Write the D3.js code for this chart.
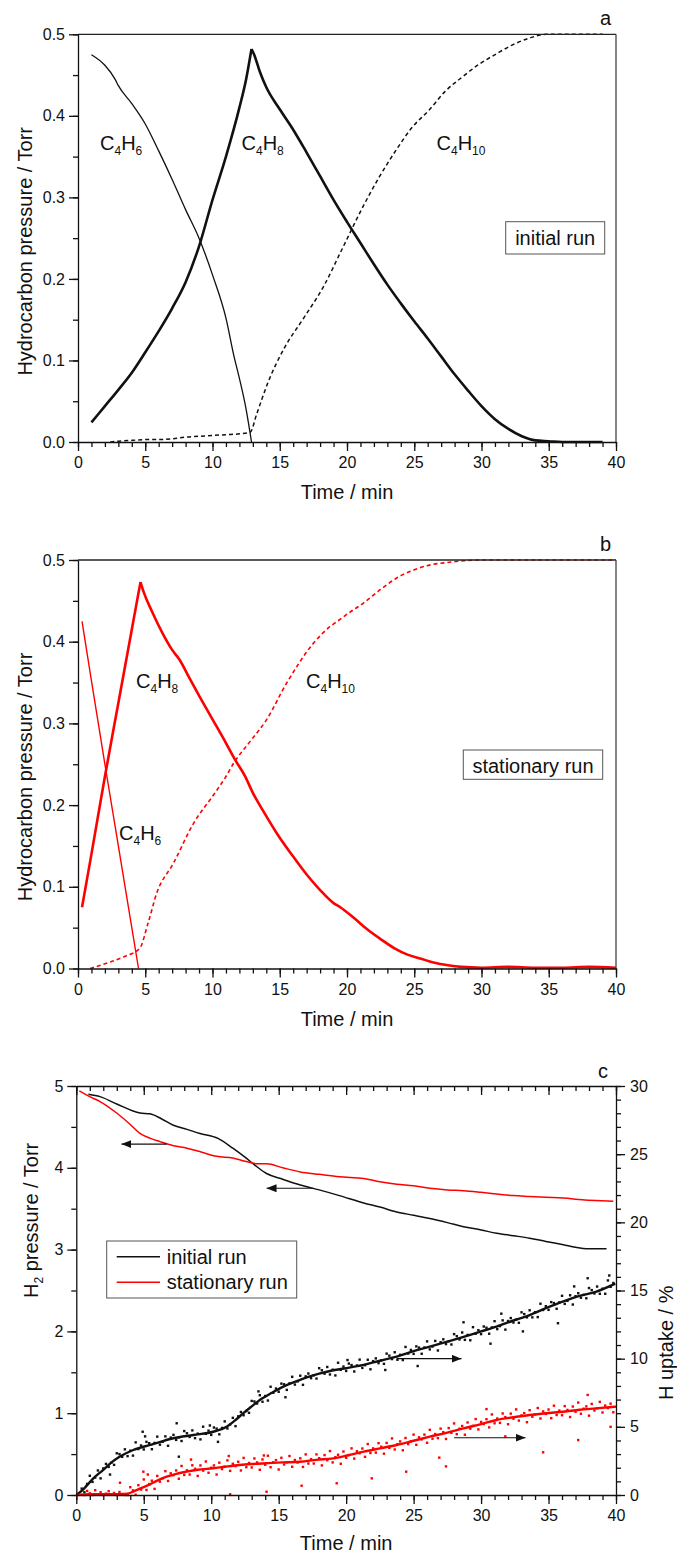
<!DOCTYPE html>
<html>
<head>
<meta charset="UTF-8">
<title>hydrocarbon runs</title>
<style>
  body, html { margin: 0; padding: 0; background: #fff; }
  svg { display: block; }
  text { font-family: "Liberation Sans", Arial, sans-serif; fill: #111; }
  .tick text { font-size: 16px; fill: #111; }
  .axis path, .axis line { stroke: #111; stroke-width: 1.3; }
</style>
</head>
<body>
<script src="https://cdn.jsdelivr.net/npm/d3@7/dist/d3.min.js"></script>
<script>
// ---- data (time in min, pressure in Torr, uptake in %) ----
var xTicks = [0, 5, 10, 15, 20, 25, 30, 35, 40];
var pTicks = [0, 0.1, 0.2, 0.3, 0.4, 0.5];
var h2Ticks = [0, 1, 2, 3, 4, 5];
var upTicks = [0, 5, 10, 15, 20, 25, 30];

// panel a, initial run
var aC4H6 = [[1,0.475],[2,0.462],[2.75,0.445],[3,0.437],[4,0.415],[5,0.39],[6,0.357],[7,0.322],[8,0.285],[9,0.25],[10,0.205],[11,0.152],[11.6,0.105],[12,0.078],[12.5,0.04],[12.9,0]];
var aC4H8 = [[1,0.024],[2,0.044],[3,0.064],[4,0.085],[5,0.11],[6,0.136],[7,0.164],[8,0.196],[9,0.24],[10,0.297],[11,0.35],[12,0.41],[12.5,0.445],[12.9,0.482],[13.1,0.475],[13.5,0.455],[14,0.435],[15,0.408],[16,0.383],[17,0.355],[18,0.326],[19,0.297],[20,0.27],[21,0.244],[22,0.218],[23,0.193],[24,0.17],[25,0.148],[26,0.127],[27,0.105],[28,0.083],[29,0.063],[30,0.044],[31,0.028],[32,0.016],[33,0.007],[34,0.002],[35,0.001],[36,0],[39,0]];
var aC4H10 = [[2.4,0],[3,0.001],[4,0.002],[5,0.003],[6,0.003],[7,0.004],[8,0.006],[9,0.007],[10,0.008],[11,0.009],[12,0.01],[12.8,0.012],[13.3,0.035],[14.1,0.072],[15.4,0.117],[16.7,0.15],[18.3,0.192],[19.5,0.232],[21.2,0.289],[22.4,0.325],[23.65,0.358],[24.8,0.385],[26.1,0.407],[27.3,0.43],[28.6,0.448],[29.8,0.463],[31.1,0.476],[32.3,0.487],[33.5,0.495],[34.8,0.5],[39,0.5]];

// panel b, stationary run
var bC4H6 = [[0.3,0.425],[1,0.352],[2,0.25],[3,0.15],[4,0.05],[4.5,0]];
var bC4H8 = [[0.3,0.075],[1,0.14],[2,0.235],[3,0.325],[4,0.415],[4.5,0.46],[4.65,0.473],[4.9,0.46],[5.5,0.437],[6.3,0.41],[7,0.39],[7.55,0.378],[8.3,0.355],[9,0.334],[10,0.305],[11,0.276],[11.7,0.255],[12.4,0.236],[13,0.215],[13.8,0.192],[14.8,0.165],[16,0.137],[17,0.115],[18,0.096],[19,0.08],[19.5,0.075],[20.5,0.062],[21.5,0.048],[22.5,0.036],[23.5,0.025],[24.5,0.017],[25.5,0.012],[26.5,0.007],[27.5,0.004],[28.5,0.002],[30,0.001],[32,0.002],[34,0.001],[36,0.001],[38,0.002],[40,0.001]];
var bC4H10 = [[0.9,0],[1.5,0.003],[2.4,0.008],[3.5,0.015],[4.6,0.025],[5.2,0.055],[5.85,0.092],[7.1,0.129],[8.6,0.178],[10.1,0.213],[11,0.235],[11.6,0.252],[12.8,0.278],[14,0.304],[15.5,0.349],[17.5,0.398],[18.7,0.418],[19.2,0.424],[20.2,0.436],[21.2,0.447],[22.5,0.464],[23.7,0.478],[25,0.488],[26.2,0.494],[27.5,0.497],[28.7,0.499],[30,0.5],[40,0.5]];

// panel c, H2 pressure (left axis)
var h2Initial = [[0.9,4.9],[1.76,4.87],[3,4.78],[4.72,4.67],[5.46,4.66],[6.3,4.6],[7.19,4.52],[8.2,4.47],[9.17,4.42],[10.5,4.36],[11.6,4.24],[12.5,4.13],[13.25,4.03],[14.1,3.93],[15.3,3.86],[16.6,3.79],[18,3.73],[19.5,3.66],[21.3,3.57],[22.5,3.52],[23.75,3.46],[25,3.42],[26.2,3.38],[27.5,3.33],[28.7,3.28],[30,3.24],[31.15,3.2],[32.4,3.17],[33.6,3.14],[34.8,3.1],[36.1,3.06],[37,3.03],[37.8,3.01],[39.3,3.01]];
var h2Stationary = [[0.22,4.94],[1,4.87],[1.76,4.81],[2.99,4.67],[4,4.53],[4.72,4.42],[5.5,4.36],[6.2,4.32],[7.2,4.27],[8.2,4.24],[9.3,4.19],[10.4,4.14],[11.6,4.12],[12.5,4.08],[13.4,4.05],[14.1,4.05],[15.3,4.0],[16.6,3.95],[18,3.92],[19.5,3.89],[21.3,3.87],[22.5,3.83],[23.75,3.8],[25,3.78],[26.2,3.75],[27.5,3.73],[28.7,3.72],[30,3.7],[31.15,3.68],[32.4,3.66],[33.6,3.65],[34.8,3.64],[36.1,3.63],[37.5,3.61],[38.5,3.6],[39.8,3.59]];

// panel c, H uptake (right axis), smoothed
var upInitial = [[0,0],[0.5,0.4],[1.26,1.22],[2,1.85],[2.5,2.3],[3.2,2.8],[4.22,3.3],[5.46,3.67],[6.3,3.92],[7.19,4.16],[8.67,4.4],[10.15,4.64],[11.14,5.01],[11.8,5.5],[12.38,6.0],[13,6.5],[13.6,6.97],[14.5,7.5],[15.35,7.95],[16.2,8.3],[17.08,8.63],[18,8.9],[19.05,9.15],[20,9.3],[21.3,9.54],[22.5,9.85],[23.75,10.15],[25,10.55],[26.2,10.88],[27.5,11.25],[28.7,11.6],[30,12.0],[31.15,12.35],[32.4,12.8],[33.6,13.2],[34.8,13.7],[36.1,14.2],[37.3,14.6],[38.5,14.9],[39.95,15.5]];
var upStationary = [[0,0],[1,0.05],[2,0.05],[3,0.05],[3.8,0.1],[4.22,0.25],[4.8,0.5],[5.46,0.78],[6,1.05],[6.7,1.34],[7.4,1.55],[8.18,1.71],[9,1.85],[10.15,1.96],[11,2.07],[12.1,2.2],[13,2.27],[14.1,2.33],[15.3,2.39],[16.6,2.44],[17.8,2.58],[19.05,2.69],[20,2.88],[21.3,3.18],[22.5,3.42],[23.75,3.67],[25,3.98],[26.2,4.28],[27.5,4.58],[28.7,4.89],[30,5.2],[31.15,5.5],[32.4,5.7],[33.6,5.87],[34.8,6.0],[36.1,6.11],[37.3,6.25],[38.5,6.35],[40,6.48]];

// panel c, H uptake raw points
var upInitialPts = [[0.4,0.47],[0.6,0.2],[0.8,0.81],[1,1.41],[1.2,0.96],[1.4,1.28],[1.6,1.8],[1.8,1.22],[2,1.95],[2.2,2.28],[2.4,2.06],[2.6,2.37],[2.8,2.21],[3,3.06],[3.2,3.0],[3.4,2.8],[3.6,3.35],[3.8,2.85],[4,3.25],[4.2,2.89],[4.4,3.86],[4.6,3.37],[4.8,3.63],[5,3.34],[5.2,3.9],[5.4,3.8],[5.6,3.36],[5.8,3.82],[6,4.28],[6.2,3.69],[6.4,3.9],[6.6,4.3],[6.8,3.61],[7,4.21],[7.2,4.41],[7.4,4.04],[7.6,4.23],[7.8,3.96],[8,4.69],[8.2,4.53],[8.4,4.26],[8.6,4.74],[8.8,4.17],[9,4.5],[9.2,4.08],[9.4,5.01],[9.6,4.49],[9.8,4.72],[10,4.41],[10.2,4.95],[10.4,4.87],[10.6,4.45],[10.8,4.92],[11,5.4],[11.2,4.88],[11.4,5.17],[11.6,5.66],[11.8,5.05],[12,5.77],[12.2,6.09],[12.4,5.85],[12.6,6.16],[12.8,6.03],[13,6.9],[13.2,6.86],[13.4,6.71],[13.6,7.32],[13.8,6.84],[14,7.26],[14.2,6.93],[14.4,7.94],[14.6,7.5],[14.8,7.81],[15,7.57],[15.2,8.17],[15.4,8.12],[15.6,7.71],[15.8,8.19],[16,8.67],[16.2,8.1],[16.4,8.33],[16.6,8.75],[16.8,8.08],[17,8.7],[17.2,8.91],[17.4,8.57],[17.6,8.78],[17.8,8.54],[18,9.3],[18.2,9.15],[18.4,8.9],[18.6,9.39],[18.8,8.84],[19,9.19],[19.2,8.77],[19.4,9.7],[19.6,9.18],[19.8,9.42],[20,9.1],[20.2,9.64],[20.4,9.53],[20.6,9.06],[20.8,9.5],[21,9.93],[21.2,9.32],[21.4,9.52],[21.6,9.92],[21.8,9.22],[22,9.82],[22.2,10.02],[22.4,9.67],[22.6,9.87],[22.8,9.62],[23,10.37],[23.2,10.22],[23.4,9.97],[23.6,10.47],[23.8,9.92],[24,10.28],[24.2,9.9],[24.4,10.86],[24.6,10.38],[24.8,10.64],[25,10.35],[25.2,10.9],[25.4,10.81],[25.6,10.36],[25.8,10.82],[26,11.27],[26.2,10.68],[26.4,10.89],[26.6,11.3],[26.8,10.6],[27,11.21],[27.2,11.42],[27.4,11.07],[27.6,11.28],[27.8,11.04],[28,11.8],[28.2,11.65],[28.4,11.41],[28.6,11.92],[28.8,11.38],[29,11.74],[29.2,11.35],[29.4,12.31],[29.6,11.83],[29.8,12.09],[30,11.8],[30.2,12.36],[30.4,12.27],[30.6,11.83],[30.8,12.29],[31,12.75],[31.2,12.17],[31.4,12.39],[31.6,12.81],[31.8,12.13],[32,12.76],[32.2,12.98],[32.4,12.65],[32.6,12.87],[32.8,12.63],[33,13.4],[33.2,13.27],[33.4,13.03],[33.6,13.55],[33.8,13.03],[34,13.41],[34.2,13.05],[34.4,14.03],[34.6,13.57],[34.8,13.85],[35,13.58],[35.2,14.15],[35.4,14.08],[35.6,13.66],[35.8,14.13],[36,14.61],[36.2,14.02],[36.4,14.24],[36.6,14.65],[36.8,13.97],[37,14.58],[37.2,14.8],[37.4,14.47],[37.6,14.68],[37.8,14.43],[38,15.18],[38.2,15.03],[38.4,14.78],[38.6,15.29],[38.8,14.76],[39,15.13],[39.2,14.76],[39.4,15.74],[39.6,15.27],[39.8,15.55],
  [4.92,4.64],[7.44,5.26],[7.6,2.81],[10.5,3.9],[15.5,7.17],[22.9,9.17],[25.3,9.46],[28.7,12.67],[30.7,11.1],[33.1,12.0],[35.7,12.6],[37.9,15.9],[39.5,16.1],[2.5,1.5],[5.1,4.3],[9.9,5.1],[13.5,7.6],[20.1,9.9],[31.5,13.3],[36.9,15.3]];
var upStationaryPts = [[0.6,0.0],[0.8,0.3],[1,0.12],[1.2,0.0],[1.4,0.35],[1.6,0.05],[1.8,0.2],[2,0.0],[2.2,0.1],[2.4,0.28],[2.6,0.02],[2.8,0.15],[3,0.0],[3.2,0.22],[3.4,0.08],[3.6,0.0],[3.8,0.0],[4,0.57],[4.2,0.34],[4.4,0.02],[4.6,0.72],[4.8,0.4],[5,1.14],[5.2,0.37],[5.4,0.8],[5.6,1.05],[5.8,0.45],[6,1.4],[6.2,0.98],[6.4,1.22],[6.6,1.75],[6.8,1.03],[7,1.59],[7.2,1.45],[7.4,1.8],[7.6,1.19],[7.8,2.13],[8,1.47],[8.2,1.81],[8.4,1.5],[8.6,2.18],[8.8,1.92],[9,1.4],[9.2,2.17],[9.4,1.79],[9.6,2.46],[9.8,1.63],[10,2.0],[10.2,2.17],[10.4,1.5],[10.6,2.37],[10.8,1.9],[11,2.07],[11.2,2.54],[11.4,1.77],[11.6,2.29],[11.8,2.12],[12,2.44],[12.2,1.8],[12.4,2.72],[12.6,2.04],[12.8,2.35],[13,2.02],[13.2,2.68],[13.4,2.39],[13.6,1.85],[13.8,2.61],[14,2.22],[14.2,2.88],[14.4,2.04],[14.6,2.4],[14.8,2.56],[15,1.87],[15.2,2.73],[15.4,2.24],[15.6,2.4],[15.8,2.86],[16,2.07],[16.2,2.57],[16.4,2.38],[16.6,2.69],[16.8,2.06],[17,2.98],[17.2,2.31],[17.4,2.63],[17.6,2.31],[17.8,2.98],[18,2.7],[18.2,2.17],[18.4,2.93],[18.6,2.55],[18.8,3.22],[19,2.39],[19.2,2.77],[19.4,2.95],[19.6,2.29],[19.8,3.19],[20,2.73],[20.2,2.93],[20.4,3.42],[20.6,2.67],[20.8,3.21],[21,3.06],[21.2,3.41],[21.4,2.8],[21.6,3.74],[21.8,3.08],[22,3.42],[22.2,3.11],[22.4,3.8],[22.6,3.54],[22.8,3.03],[23,3.82],[23.2,3.46],[23.4,4.15],[23.6,3.34],[23.8,3.73],[24,3.93],[24.2,3.28],[24.4,4.18],[24.6,3.73],[24.8,3.93],[25,4.43],[25.2,3.68],[25.4,4.23],[25.6,4.08],[25.8,4.43],[26,3.83],[26.2,4.78],[26.4,4.13],[26.6,4.47],[26.8,4.17],[27,4.87],[27.2,4.61],[27.4,4.11],[27.6,4.91],[27.8,4.56],[28,5.25],[28.2,4.46],[28.4,4.86],[28.6,5.06],[28.8,4.42],[29,5.32],[29.2,4.87],[29.4,5.07],[29.6,5.57],[29.8,4.81],[30,5.36],[30.2,5.21],[30.4,5.56],[30.6,4.96],[30.8,5.91],[31,5.26],[31.2,5.61],[31.4,5.29],[31.6,5.98],[31.8,5.71],[32,5.19],[32.2,5.97],[32.4,5.6],[32.6,6.28],[32.8,5.46],[33,5.84],[33.2,6.01],[33.4,5.34],[33.6,6.22],[33.8,5.74],[34,5.91],[34.2,6.38],[34.4,5.61],[34.6,6.13],[34.8,5.95],[35,6.27],[35.2,5.64],[35.4,6.55],[35.6,5.87],[35.8,6.19],[36,5.85],[36.2,6.52],[36.4,6.24],[36.6,5.72],[36.8,6.49],[37,6.11],[37.2,6.78],[37.4,5.96],[37.6,6.33],[37.8,6.5],[38,5.82],[38.2,6.68],[38.4,6.2],[38.6,6.36],[38.8,6.83],[39,6.05],[39.2,6.56],[39.4,6.38],[39.6,6.7],[39.8,6.07],
  [3.24,0.9],[4.97,1.71],[5.3,1.5],[11.3,2.86],[11.4,0.05],[14.1,0.24],[16.7,0.68],[19.3,0.86],[21.9,1.22],[24.45,1.71],[26.9,2.74],[27.4,2.1],[34.6,3.13],[37.2,4.03],[37.9,7.34],[39.6,5.0],[31.8,4.3],[30.4,6.3],[8.5,2.6],[13.9,2.9]];

// arrows: [t start, t end, value] on left (H2) and right (uptake) axis
var arrowsLeft = [[6.7, 3.35, 4.29], [17.55, 14.1, 3.75]];
var arrowsRight = [[23.75, 28.55, 10.0], [28.0, 33.3, 4.2]];

// ---- drawing ----
var W = 677, H = 1555;
var svg = d3.select('body').append('svg').attr('width', W).attr('height', H);

svg.append('defs').append('marker')
  .attr('id', 'arr')
  .attr('markerUnits', 'userSpaceOnUse')
  .attr('markerWidth', 10).attr('markerHeight', 8)
  .attr('refX', 10).attr('refY', 4)
  .attr('orient', 'auto')
  .append('path').attr('d', 'M0,0 L10,4 L0,8 Z').attr('fill', '#111');

var fmtInt = d3.format('d');

// chemical label with subscripts: parts = [[text, isSub], ...]
function chem(g, x, y, parts) {
  var t = g.append('text').attr('x', x).attr('y', y).style('font-size', '20px');
  var low = false;
  parts.forEach(function(p) {
    var s = t.append('tspan').text(p[0]);
    if (p[1] && !low) { s.attr('dy', 5).style('font-size', '12px'); low = true; }
    else if (!p[1] && low) { s.attr('dy', -5); low = false; }
    else if (p[1]) { s.style('font-size', '12px'); }
  });
  return t;
}

function addLine(g, data, x, y, color, width, dash, curve) {
  var line = d3.line()
    .x(function(d) { return x(d[0]); })
    .y(function(d) { return y(d[1]); })
    .curve(curve || d3.curveMonotoneX);
  g.append('path')
    .datum(data)
    .attr('d', line)
    .attr('fill', 'none')
    .attr('stroke', color)
    .attr('stroke-width', width)
    .attr('stroke-linejoin', 'round')
    .attr('stroke-dasharray', dash || null);
}

// sharp peak: smooth each side separately
function addPeakLine(g, data, x, y, color, width) {
  var k = d3.maxIndex(data, function(d) { return d[1]; });
  addLine(g, data.slice(0, k + 1), x, y, color, width);
  addLine(g, data.slice(k), x, y, color, width);
}

function xAxes(g, x, bottom) {
  g.append('g').attr('class', 'axis')
    .attr('transform', 'translate(0,' + bottom + ')')
    .call(d3.axisBottom(x).tickValues(d3.range(0, 41, 1)).tickSize(5).tickFormat(''))
    .call(function(s) { s.select('.domain').remove(); });
  g.append('g').attr('class', 'axis')
    .attr('transform', 'translate(0,' + bottom + ')')
    .call(d3.axisBottom(x).tickValues(xTicks).tickSize(9).tickPadding(6).tickSizeOuter(0).tickFormat(fmtInt));
}

function xTitle(g, cx, yb) {
  g.append('text').attr('x', cx).attr('y', yb)
    .attr('text-anchor', 'middle').style('font-size', '20px').text('Time / min');
}

// panels a and b share the same layout
function hydrocarbonPanel(top, bottom, series, color, labels, boxText, box, letter) {
  var left = 78, right = 616;
  var g = svg.append('g');
  var x = d3.scaleLinear().domain([0, 40]).range([left, right]);
  var y = d3.scaleLinear().domain([0, 0.5]).range([bottom, top]);

  series.forEach(function(s) {
    if (s.peak) addPeakLine(g, s.data, x, y, color, s.w);
    else addLine(g, s.data, x, y, color, s.w, s.dash, s.curve);
  });

  // frame
  g.append('line').attr('x1', left).attr('x2', right).attr('y1', top).attr('y2', top)
    .attr('stroke', '#222').attr('stroke-width', 1.3);
  g.append('line').attr('x1', right).attr('x2', right).attr('y1', top).attr('y2', bottom)
    .attr('stroke', '#444').attr('stroke-width', 1.3);

  xAxes(g, x, bottom);
  g.append('g').attr('class', 'axis')
    .attr('transform', 'translate(' + left + ',0)')
    .call(d3.axisLeft(y).tickValues(d3.range(0, 0.501, 0.05)).tickSize(5).tickFormat(''))
    .call(function(s) { s.select('.domain').remove(); });
  g.append('g').attr('class', 'axis')
    .attr('transform', 'translate(' + left + ',0)')
    .call(d3.axisLeft(y).tickValues(pTicks).tickSize(9).tickPadding(4).tickSizeOuter(0).tickFormat(d3.format('.1f')));

  xTitle(g, (left + right) / 2, bottom + 57);
  g.append('text')
    .attr('transform', 'translate(31.5,' + (top + 217) + ') rotate(-90)')
    .attr('text-anchor', 'middle').style('font-size', '20px')
    .text('Hydrocarbon pressure / Torr');

  labels.forEach(function(l) { chem(g, l[0], top + l[1], l[2]); });

  g.append('rect').attr('x', box[0]).attr('y', top + box[1]).attr('width', box[2]).attr('height', box[3])
    .attr('fill', '#fff').attr('stroke', '#555').attr('stroke-width', 1);
  g.append('text').attr('x', box[0] + box[2] / 2).attr('y', top + box[1] + 23)
    .attr('text-anchor', 'middle').style('font-size', '20px').text(boxText);

  g.append('text').attr('x', 600).attr('y', top - 9).style('font-size', '20px').text(letter);
}

hydrocarbonPanel(34.3, 442, [
  { data: aC4H6, w: 1.3 },
  { data: aC4H8, w: 2.6, peak: true },
  { data: aC4H10, w: 1.5, dash: '4,3' }
], '#111', [
  [100, 116, [['C', 0], ['4', 1], ['H', 0], ['6', 1]]],
  [241.5, 116, [['C', 0], ['4', 1], ['H', 0], ['8', 1]]],
  [436.5, 116, [['C', 0], ['4', 1], ['H', 0], ['10', 1]]]
], 'initial run', [505.7, 187.4, 99, 32.3], 'a');

hydrocarbonPanel(560, 968.5, [
  { data: bC4H6, w: 1.4, curve: d3.curveLinear },
  { data: bC4H8, w: 2.6, peak: true },
  { data: bC4H10, w: 1.6, dash: '4,3' }
], '#f00', [
  [119, 280, [['C', 0], ['4', 1], ['H', 0], ['6', 1]]],
  [136, 128, [['C', 0], ['4', 1], ['H', 0], ['8', 1]]],
  [306, 128, [['C', 0], ['4', 1], ['H', 0], ['10', 1]]]
], 'stationary run', [463.3, 190, 139.4, 29.3], 'b');

// panel c
(function() {
  var left = 76.3, right = 616, top = 1086, bottom = 1495;
  var g = svg.append('g');
  var x = d3.scaleLinear().domain([0, 40]).range([left, right]);
  var yL = d3.scaleLinear().domain([0, 5]).range([bottom, top]);
  var yR = d3.scaleLinear().domain([0, 30]).range([bottom, top]);

  g.append('g').selectAll('rect').data(upInitialPts).enter().append('rect')
    .attr('x', function(d) { return x(d[0]) - 1.2; })
    .attr('y', function(d) { return yR(d[1]) - 1.2; })
    .attr('width', 2.4).attr('height', 2.4).attr('fill', '#111');
  g.append('g').selectAll('rect').data(upStationaryPts).enter().append('rect')
    .attr('x', function(d) { return x(d[0]) - 1.2; })
    .attr('y', function(d) { return yR(d[1]) - 1.2; })
    .attr('width', 2.4).attr('height', 2.4).attr('fill', '#f00');

  addLine(g, upInitial, x, yR, '#111', 2.4);
  addLine(g, upStationary, x, yR, '#f00', 2.4);
  addLine(g, h2Initial, x, yL, '#111', 1.5);
  addLine(g, h2Stationary, x, yL, '#f00', 1.5);

  arrowsLeft.forEach(function(a) {
    g.append('line').attr('x1', x(a[0])).attr('x2', x(a[1])).attr('y1', yL(a[2])).attr('y2', yL(a[2]))
      .attr('stroke', '#111').attr('stroke-width', 1.1).attr('marker-end', 'url(#arr)');
  });
  arrowsRight.forEach(function(a) {
    g.append('line').attr('x1', x(a[0])).attr('x2', x(a[1])).attr('y1', yR(a[2])).attr('y2', yR(a[2]))
      .attr('stroke', '#111').attr('stroke-width', 1.1).attr('marker-end', 'url(#arr)');
  });

  xAxes(g, x, bottom);
  // top ticks point inward
  g.append('g').attr('class', 'axis')
    .attr('transform', 'translate(0,' + top + ')')
    .call(d3.axisBottom(x).tickValues(d3.range(0, 41, 1)).tickSize(5).tickFormat(''))
    .call(function(s) { s.select('.domain').remove(); });
  g.append('g').attr('class', 'axis')
    .attr('transform', 'translate(0,' + top + ')')
    .call(d3.axisBottom(x).tickValues(xTicks).tickSize(9).tickSizeOuter(0).tickFormat(''));

  g.append('g').attr('class', 'axis')
    .attr('transform', 'translate(' + left + ',0)')
    .call(d3.axisLeft(yL).tickValues(d3.range(0, 5.01, 0.5)).tickSize(5).tickFormat(''))
    .call(function(s) { s.select('.domain').remove(); });
  g.append('g').attr('class', 'axis')
    .attr('transform', 'translate(' + left + ',0)')
    .call(d3.axisLeft(yL).tickValues(h2Ticks).tickSize(9).tickPadding(4).tickSizeOuter(0).tickFormat(fmtInt));

  g.append('g').attr('class', 'axis')
    .attr('transform', 'translate(' + right + ',0)')
    .call(d3.axisRight(yR).tickValues(d3.range(0, 31, 1)).tickSize(5).tickFormat(''))
    .call(function(s) { s.select('.domain').remove(); });
  g.append('g').attr('class', 'axis')
    .attr('transform', 'translate(' + right + ',0)')
    .call(d3.axisRight(yR).tickValues(upTicks).tickSize(9).tickPadding(5).tickSizeOuter(0).tickFormat(fmtInt));

  xTitle(g, (left + right) / 2, 1550);

  var tl = g.append('text')
    .attr('transform', 'translate(37.5,1298) rotate(-90)')
    .style('font-size', '20px');
  tl.append('tspan').text('H');
  tl.append('tspan').attr('dy', 5).style('font-size', '12px').text('2');
  tl.append('tspan').attr('dy', -5).text(' pressure / Torr');

  g.append('text')
    .attr('transform', 'translate(673,1400) rotate(-90)')
    .style('font-size', '20px').text('H uptake / %');

  // legend
  var lg = g.append('g');
  lg.append('rect').attr('x', 106.7).attr('y', 1241).attr('width', 190).attr('height', 57)
    .attr('fill', '#fff').attr('stroke', '#555').attr('stroke-width', 1);
  [['initial run', '#111', 1256.7], ['stationary run', '#f00', 1282.3]].forEach(function(l) {
    lg.append('line').attr('x1', 116.7).attr('x2', 160).attr('y1', l[2]).attr('y2', l[2])
      .attr('stroke', l[1]).attr('stroke-width', 1.6);
    lg.append('text').attr('x', 166.7).attr('y', l[2] + 7).style('font-size', '20px').text(l[0]);
  });

  g.append('text').attr('x', 598).attr('y', 1078).style('font-size', '20px').text('c');
})();
</script>
</body>
</html>
